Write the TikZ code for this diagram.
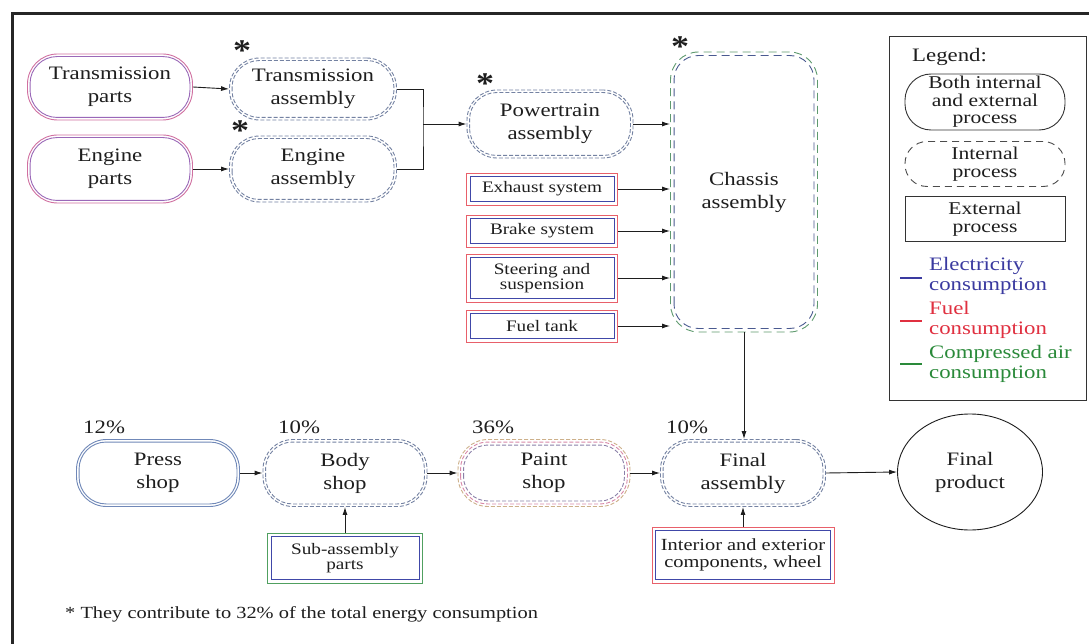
\documentclass[tikz,border=0pt]{standalone}
\usepackage{fontspec}
\setmainfont{Liberation Serif}[FakeStretch=1.2]
\usetikzlibrary{calc,arrows.meta,shapes.geometric}

\definecolor{ink}{HTML}{1E1E1E}
\definecolor{pinkO}{HTML}{D070A0}
\definecolor{pinkI}{HTML}{9A68B8}
\definecolor{asmb}{HTML}{7482A2}
\definecolor{chG}{HTML}{5E9A6E}
\definecolor{chB}{HTML}{4A5A90}
\definecolor{redO}{HTML}{E8606A}
\definecolor{bluI}{HTML}{4048A8}
\definecolor{pressc}{HTML}{7088B8}
\definecolor{tanO}{HTML}{CDB08A}
\definecolor{pinkM}{HTML}{D888A8}
\definecolor{purI}{HTML}{8A80A8}
\definecolor{grnO}{HTML}{50A060}
\definecolor{elec}{HTML}{3A3AA0}
\definecolor{fuel}{HTML}{E03040}
\definecolor{air}{HTML}{2A8A3A}

\newcommand\mainfs{\fontsize{19}{23}\selectfont}
\newcommand\smallfs{\fontsize{16}{15}\selectfont}
\newcommand\midfs{\fontsize{17}{17}\selectfont}
\newcommand\legfs{\fontsize{19}{20}\selectfont}
\newcommand\legtight{\fontsize{18}{17.5}\selectfont}
\newcommand\footfs{\fontsize{17}{20}\selectfont}
\newcommand\starfs{\fontsize{30}{30}\selectfont\bfseries}

% inner outline of a multi-line box: node, colour, inset, corner radius, line style
\newcommand\ring[5]{\draw[line width=0.9pt,#5,draw=#2,rounded corners=#4]
  ($(#1.south west)+(#3,#3)$) rectangle ($(#1.north east)-(#3,#3)$);}

\tikzset{
  every node/.style={text=ink, inner sep=0pt, align=center},
  stage/.style={rectangle, rounded corners=30pt, line width=0.9pt, font=\mainfs},
  part/.style={rectangle, line width=0.9pt, draw=redO, font=\smallfs, minimum width=151pt},
  dfine/.style={dash pattern=on 4pt off 2pt},
  dlong/.style={dash pattern=on 8pt off 5pt},
  arr/.style={draw=ink, line width=0.9pt, -{Latex[length=8pt,width=5pt]}},
  link/.style={draw=ink, line width=0.9pt},
  pct/.style={anchor=base west, font=\mainfs},
  star/.style={font=\starfs},
}

\begin{document}
\begin{tikzpicture}[x=1pt,y=-1pt]
\useasboundingbox (0,0) rectangle (1089,644);
\fill[white] (0,0) rectangle (1089,644);

% frame
\draw[line width=3pt, black!85] (12,646) -- (12,14) -- (1091,14);

% ---- powertrain branch ----
\node[stage, draw=pinkO, minimum width=165pt, minimum height=66pt] (tp) at (110,87) {Transmission\\parts};
\ring{tp}{pinkI}{3pt}{27pt}{solid}
\node[stage, draw=pinkO, minimum width=165pt, minimum height=68pt] (ep) at (110,169) {Engine\\parts};
\ring{ep}{pinkI}{3pt}{27pt}{solid}

\node[stage, dfine, draw=asmb, minimum width=167pt, minimum height=62pt] (ta) at (313,89) {Transmission\\assembly};
\ring{ta}{asmb}{3pt}{27pt}{dfine}
\node[stage, dfine, draw=asmb, minimum width=167pt, minimum height=66pt] (ea) at (313,169) {Engine\\assembly};
\ring{ea}{asmb}{3pt}{27pt}{dfine}

\node[stage, dfine, draw=asmb, minimum width=166pt, minimum height=68pt] (pa) at (550,124) {Powertrain\\assembly};
\ring{pa}{asmb}{3pt}{27pt}{dfine}

\node[star] (s1) at (242,51) {*};
\node[star] (s2) at (240,131) {*};
\node[star] (s3) at (485,84) {*};
\node[star] (s4) at (680,47) {*};

% ---- chassis ----
\node[stage, dlong, draw=chG, rounded corners=28pt, minimum width=147pt, minimum height=280pt] (ch) at (744,192) {Chassis\\assembly};
\ring{ch}{chB}{4pt}{24pt}{dlong}

\node[part, minimum height=32pt] (ex) at (542,189) {Exhaust system};
\ring{ex}{bluI}{4pt}{0pt}{solid}
\node[part, minimum height=32pt] (br) at (542,231) {Brake system};
\ring{br}{bluI}{4pt}{0pt}{solid}
\node[part, minimum height=48pt] (st) at (542,278) {Steering and\\suspension};
\ring{st}{bluI}{4pt}{0pt}{solid}
\node[part, minimum height=32pt] (ft) at (542,326) {Fuel tank};
\ring{ft}{bluI}{4pt}{0pt}{solid}

% ---- main line ----
\node[stage, draw=pressc, minimum width=163pt, minimum height=67pt] (ps) at (158,473) {Press\\shop};
\ring{ps}{pressc}{3pt}{27pt}{solid}
\node[stage, dfine, draw=asmb, minimum width=164pt, minimum height=67pt] (bs) at (345,473) {Body\\shop};
\ring{bs}{asmb}{3pt}{27pt}{dfine}
\node[stage, dfine, draw=tanO, minimum width=172pt, minimum height=67pt] (pn) at (544,473) {Paint\\shop};
\ring{pn}{pinkM}{3pt}{27pt}{dfine}
\ring{pn}{purI}{6pt}{24pt}{dfine}
\node[stage, dfine, draw=asmb, minimum width=165pt, minimum height=67pt] (fa) at (743,473) {Final\\assembly};
\ring{fa}{asmb}{3pt}{27pt}{dfine}
\node[ellipse, draw=ink, line width=0.9pt, minimum width=145pt, minimum height=116pt, font=\mainfs] (fp) at (970,472) {Final\\product};

\node[part, draw=grnO, minimum width=155pt, minimum height=50pt] (sa) at (345,558) {Sub-assembly\\parts};
\ring{sa}{bluI}{4pt}{0pt}{solid}
\node[part, minimum width=182pt, minimum height=56pt, font=\midfs] (ie) at (743,555) {Interior and exterior\\components, wheel};
\ring{ie}{bluI}{4pt}{0pt}{solid}

\node[pct] (p1) at (83,433) {12\%};
\node[pct] (p2) at (278,433) {10\%};
\node[pct] (p3) at (472,433) {36\%};
\node[pct] (p4) at (666,433) {10\%};

% ---- connectors ----
\draw[arr] (tp.east) -- (ta.west);
\draw[arr] (ep.east) -- (ea.west);
\coordinate (jn) at (423,124);
\draw[link] (ta.east) -| (jn) |- (ea.east);
\draw[arr] (jn) -- (pa.west);
\draw[arr] (pa.east) -- (pa.east -| ch.west);
\draw[arr] (ex.east) -- (ex.east -| ch.west);
\draw[arr] (br.east) -- (br.east -| ch.west);
\draw[arr] (st.east) -- (st.east -| ch.west);
\draw[arr] (ft.east) -- (ft.east -| ch.west);
\draw[arr] (ch.south) -- (ch.south |- fa.north);
\draw[arr] (ps.east) -- (bs.west);
\draw[arr] (bs.east) -- (pn.west);
\draw[arr] (pn.east) -- (fa.west);
\draw[arr] (fa.east) -- (fp.west);
\draw[arr] (sa.north) -- (bs.south);
\draw[arr] (ie.north) -- (fa.south);

% ---- legend ----
\node[draw=black!80, line width=1pt, minimum width=197pt, minimum height=363pt] (lg) at (987.5,218.5) {};
\node[anchor=base west, font=\legfs] (lgt) at (912,62) {Legend:};
\node[draw=black!80, line width=0.9pt, rounded corners=26pt, minimum width=160pt, minimum height=56pt, font=\legtight] (lg1) at (985,102) {Both internal\\and external\\process};
\node[draw=black!70, line width=0.9pt, dash pattern=on 7pt off 5pt, rounded corners=22pt, minimum width=160pt, minimum height=45pt, font=\legtight] (lg2) at (985,164) {Internal\\process};
\node[draw=black!80, line width=0.9pt, minimum width=160pt, minimum height=45pt, font=\legtight] (lg3) at (985,219) {External\\process};

\draw[elec, line width=2pt] (900,278) -- (922,278);
\node[anchor=west, align=left, text=elec, font=\legfs] (le) at (929,276) {Electricity\\consumption};
\draw[fuel, line width=2pt] (900,321) -- (922,321);
\node[anchor=west, align=left, text=fuel, font=\legfs] (lf) at (929,320) {Fuel\\consumption};
\draw[air, line width=2pt] (900,364) -- (922,364);
\node[anchor=west, align=left, text=air, font=\legfs] (la) at (929,364) {Compressed air\\consumption};

\node[anchor=base west, font=\footfs] (fn) at (65,618) {* They contribute to 32\% of the total energy consumption};
\end{tikzpicture}
\end{document}
